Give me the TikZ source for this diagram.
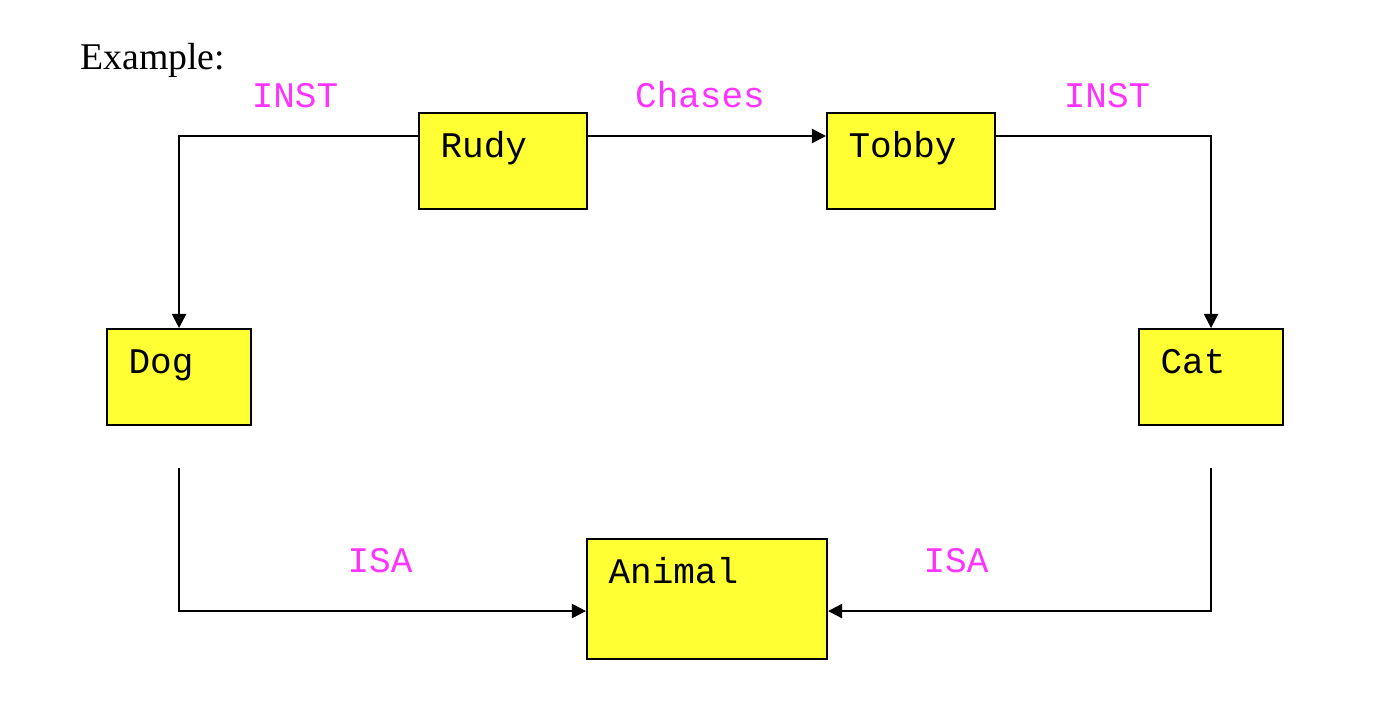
\documentclass[tikz,border=0pt]{standalone}
\usepackage{fontspec}
\setmainfont{Liberation Serif}
\setmonofont{Liberation Mono}
\usetikzlibrary{arrows.meta}
\definecolor{boxyellow}{HTML}{FFFF33}
\definecolor{lblmagenta}{HTML}{FF33FF}
\tikzset{
  box/.style 2 args={draw=black, line width=1.2pt, fill=boxyellow, anchor=north west,
    font=\ttfamily\fontsize{20.5}{22}\selectfont, align=left,
    inner xsep=0.43cm, inner ysep=0pt,
    text width=#1cm-0.86cm, text height=0.88cm, text depth=#2cm-0.88cm},
  lbl/.style={text=lblmagenta, anchor=base, inner sep=0pt, font=\ttfamily\fontsize{20.5}{22}\selectfont},
  conn/.style={line width=1.2pt, draw=black},
  arr/.style={conn, -{Triangle[length=8pt,width=8pt]}}
}
\begin{document}
\begin{tikzpicture}[x=0.02cm, y=-0.02cm]
\useasboundingbox (0,0) rectangle (1390,704);
\node[anchor=base west, inner sep=0pt, font=\fontsize{21.5}{24}\selectfont] (title) at (80,69) {Example:};
\node[box={3.36}{1.92}] (rudy) at (418,112) {Rudy};
\node[box={3.36}{1.92}] (tobby) at (826,112) {Tobby};
\node[box={2.88}{1.92}] (dog) at (106,328) {Dog};
\node[box={2.88}{1.92}] (cat) at (1138,328) {Cat};
\node[box={4.8}{2.4}] (animal) at (586,538) {Animal};
\node[lbl] (inst1) at (295,107) {INST};
\node[lbl] (chases) at (700,107) {Chases};
\node[lbl] (inst2) at (1107,107) {INST};
\node[lbl] (isa1) at (380,572) {ISA};
\node[lbl] (isa2) at (956,572) {ISA};
\draw[arr] ([yshift=-0.48cm]rudy.north west) -| (dog.north);
\draw[arr] ([yshift=-0.48cm]rudy.north east) -- ([yshift=-0.48cm]tobby.north west);
\draw[arr] ([yshift=-0.48cm]tobby.north east) -| (cat.north);
\draw[arr] ([yshift=-0.84cm]dog.south) |- ([yshift=-0.24cm]animal.west);
\draw[arr] ([yshift=-0.84cm]cat.south) |- ([yshift=-0.24cm]animal.east);
\end{tikzpicture}
\end{document}
